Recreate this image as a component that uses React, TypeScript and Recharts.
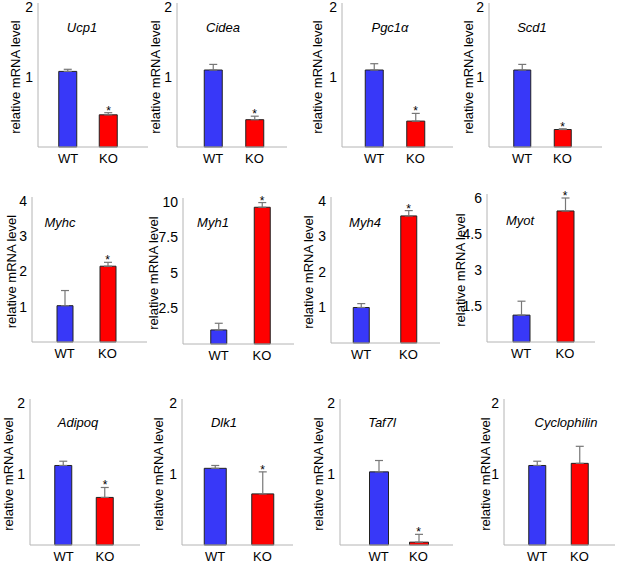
import React from 'react';
import { ComposedChart, Bar, XAxis, YAxis, ErrorBar, Scatter, Cell } from 'recharts';

const genes = ['Ucp1', 'Cidea', 'Pgc1α', 'Scd1', 'Myhc', 'Myh1', 'Myh4', 'Myot', 'Adipoq', 'Dlk1', 'Taf7l', 'Cyclophilin'];
const groups = ['WT', 'KO'];
const wtMean = [1.08, 1.1, 1.1, 1.1, 1.03, 0.99, 1.0, 1.12, 1.12, 1.08, 1.03, 1.12];
const wtErr = [0.03, 0.08, 0.09, 0.08, 0.43, 0.47, 0.11, 0.58, 0.06, 0.04, 0.16, 0.06];
const koMean = [0.46, 0.39, 0.37, 0.25, 2.15, 9.63, 3.58, 5.46, 0.67, 0.72, 0.04, 1.15];
const koErr = [0.03, 0.05, 0.11, 0.01, 0.11, 0.33, 0.15, 0.54, 0.14, 0.31, 0.11, 0.24];
const koSig = [true, true, true, true, true, true, true, true, true, true, true, false];
const yMax = [2, 2, 2, 2, 4, 10, 4, 6, 2, 2, 2, 2];
const yTicks = [[1, 2], [1, 2], [1, 2], [1, 2], [1, 2, 3, 4], [2.5, 5, 7.5, 10], [1, 2, 3, 4], [1.5, 3, 4.5, 6], [1, 2], [1, 2], [1, 2], [1, 2]];
const yLabel = 'relative mRNA level';

const layouts = [
  { axisX: 38, axisEnd: 148, topY: 7, zeroY: 147, c1: 68, c2: 108.5, bw: 18, ylab: 23, tdx: 44, tdy: 20 },
  { axisX: 177, axisEnd: 287, topY: 7, zeroY: 147, c1: 213, c2: 254.5, bw: 18, ylab: 22, tdx: 46, tdy: 20 },
  { axisX: 342, axisEnd: 453, topY: 7, zeroY: 147, c1: 374, c2: 415.5, bw: 18, ylab: 25, tdx: 48, tdy: 20 },
  { axisX: 489, axisEnd: 602, topY: 7, zeroY: 147, c1: 522, c2: 562.5, bw: 17, ylab: 21, tdx: 43, tdy: 20 },
  { axisX: 32, axisEnd: 147, topY: 201, zeroY: 342, c1: 64.5, c2: 107.5, bw: 16, ylab: 21, tdx: 28, tdy: 21 },
  { axisX: 183, axisEnd: 294, topY: 202, zeroY: 344, c1: 218.5, c2: 262, bw: 16, ylab: 30, tdx: 30, tdy: 20 },
  { axisX: 331, axisEnd: 440, topY: 201, zeroY: 343, c1: 361, c2: 408.5, bw: 16, ylab: 23, tdx: 34, tdy: 21 },
  { axisX: 487, axisEnd: 595, topY: 198, zeroY: 342, c1: 521, c2: 565, bw: 17, ylab: 27, tdx: 33, tdy: 22 },
  { axisX: 30, axisEnd: 140, topY: 403, zeroY: 545, c1: 63.5, c2: 105, bw: 17, ylab: 22, tdx: 48, tdy: 19 },
  { axisX: 182, axisEnd: 293, topY: 403, zeroY: 545, c1: 215, c2: 262.5, bw: 22, ylab: 24, tdx: 42, tdy: 19 },
  { axisX: 340, axisEnd: 453, topY: 403, zeroY: 545, c1: 378.5, c2: 418.5, bw: 19, ylab: 22, tdx: 42, tdy: 19 },
  { axisX: 504, axisEnd: 615, topY: 403, zeroY: 545, c1: 537, c2: 579.5, bw: 17, ylab: 19, tdx: 62, tdy: 19 },
];

const FONT = '"Liberation Sans", Arial, Helvetica, sans-serif';
const BLUE = '#3838f8';
const RED = '#ff0000';
const AXIS = '#b4b4b4';
const YW = 50;
const MT = 12;
const XH = 30;
const MR = 4;

const PanelText = ({ i, plotH }: { i: number; plotH: number }) => {
  const L = layouts[i];
  const lx = YW - L.ylab;
  const ly = MT + plotH / 2;
  return (
    <g>
      <line x1={YW} x2={YW} y1={MT - 4} y2={MT} stroke={AXIS} />
      <text x={lx} y={ly} transform={`rotate(-90 ${lx} ${ly})`} textAnchor="middle" dominantBaseline="central" fontSize={13} fill="#000" fontFamily={FONT}>
        {yLabel}
      </text>
      <text x={YW + L.tdx} y={MT + L.tdy} textAnchor="middle" dominantBaseline="central" fontSize={13} fontStyle="italic" fill="#000" fontFamily={FONT}>
        {genes[i]}
      </text>
    </g>
  );
};

const StarShape = (p: any) => {
  if (!p || p.payload == null || p.payload.star == null || !Number.isFinite(p.cy)) return <g />;
  return (
    <text x={p.cx} y={p.cy + 2} textAnchor="middle" fontSize={12} fill="#000" fontFamily={FONT}>
      *
    </text>
  );
};

function Panel({ i }: { i: number }) {
  const L = layouts[i];
  const plotW = L.axisEnd - L.axisX;
  const span = 2 * (L.c2 - L.c1);
  const pl = L.c1 - L.axisX - span / 4;
  const pr = plotW - pl - span;
  const plotH = L.zeroY - L.topY;
  const data = groups.map((g, k) => ({
    name: g,
    value: k === 0 ? wtMean[i] : koMean[i],
    err: [0, k === 0 ? wtErr[i] : koErr[i]],
    star: k === 1 && koSig[i] ? koMean[i] + koErr[i] : null,
  }));
  return (
    <div style={{ position: 'absolute', left: L.axisX - YW, top: L.topY - MT }}>
      <ComposedChart
        width={YW + plotW + MR}
        height={MT + plotH + XH}
        data={data}
        margin={{ top: MT, right: MR, left: 0, bottom: 0 }}
      >
        <XAxis
          dataKey="name"
          height={XH}
          padding={{ left: pl, right: pr }}
          tickLine={false}
          tickSize={0}
          tickMargin={7}
          interval={0}
          axisLine={{ stroke: AXIS }}
          tick={{ fontSize: 13, fill: '#000', fontFamily: FONT }}
        />
        <YAxis
          width={YW}
          type="number"
          domain={[0, yMax[i]]}
          ticks={yTicks[i]}
          tickLine={false}
          tickSize={0}
          tickMargin={5}
          axisLine={{ stroke: AXIS }}
          tick={{ fontSize: 14, fill: '#000', fontFamily: FONT }}
          label={<PanelText i={i} plotH={plotH} />}
        />
        <Bar dataKey="value" barSize={L.bw} isAnimationActive={false} stroke="#222" strokeWidth={1}>
          {data.map((d, k) => (
            <Cell key={d.name} fill={k === 0 ? BLUE : RED} />
          ))}
          <ErrorBar dataKey="err" width={4} stroke="#777" strokeWidth={1.2} direction="y" isAnimationActive={false} />
        </Bar>
        <Scatter dataKey="star" isAnimationActive={false} shape={StarShape} />
      </ComposedChart>
    </div>
  );
}

export default function App() {
  return (
    <div style={{ position: 'absolute', left: 0, top: 0, width: 617, height: 563, background: '#fff', fontFamily: FONT }}>
      {genes.map((g, i) => (
        <Panel key={g} i={i} />
      ))}
    </div>
  );
}
